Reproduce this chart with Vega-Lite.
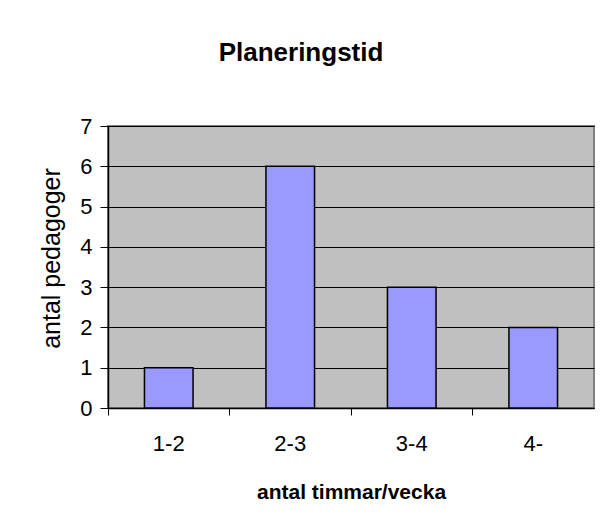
{
  "$schema": "https://vega.github.io/schema/vega-lite/v6.json",
  "autosize": {"type": "none"},
  "padding": {"left": 108, "top": 126, "right": 10, "bottom": 117},
  "width": 486,
  "height": 282,
  "background": "white",
  "title": {
    "text": "Planeringstid",
    "font": "Liberation Sans",
    "fontSize": 26,
    "fontWeight": "bold",
    "color": "black",
    "anchor": "middle",
    "baseline": "alphabetic",
    "offset": 72,
    "dx": -50,
    "dy": 44
  },
  "data": {
    "values": [
      {"timmar": "1-2", "antal": 1},
      {"timmar": "2-3", "antal": 6},
      {"timmar": "3-4", "antal": 3},
      {"timmar": "4-", "antal": 2}
    ]
  },
  "mark": {"type": "bar", "fill": "#9999FF", "stroke": "black", "strokeWidth": 1.5, "width": {"band": 0.4}},
  "encoding": {
    "x": {
      "field": "timmar",
      "type": "nominal",
      "sort": null,
      "scale": {"paddingInner": 0, "paddingOuter": 0},
      "axis": {
        "title": "antal timmar/vecka",
        "titleFont": "Liberation Sans",
        "titleFontSize": 21,
        "titleFontWeight": "bold",
        "titleColor": "black",
        "titlePadding": 27,
        "labelFont": "Liberation Sans",
        "labelFontSize": 22,
        "labelColor": "black",
        "labelAngle": 0,
        "labelPadding": 18,
        "bandPosition": 0,
        "tickSize": 7,
        "tickColor": "black",
        "domainColor": "black",
        "domainWidth": 1.5,
        "grid": false
      }
    },
    "y": {
      "field": "antal",
      "type": "quantitative",
      "scale": {"domain": [0, 7], "nice": false},
      "axis": {
        "title": "antal pedagoger",
        "titleFont": "Liberation Sans",
        "titleFontSize": 25,
        "titleFontWeight": "normal",
        "titleColor": "black",
        "titlePadding": 15,
        "titleY": 132,
        "labelFont": "Liberation Sans",
        "labelFontSize": 22,
        "labelColor": "black",
        "labelPadding": 8,
        "values": [0, 1, 2, 3, 4, 5, 6, 7],
        "tickSize": 8,
        "tickColor": "black",
        "domainColor": "black",
        "domainWidth": 1.5,
        "grid": true,
        "gridColor": "black",
        "gridWidth": 1,
        "gridOpacity": 1
      }
    }
  },
  "config": {
    "view": {"fill": "#C0C0C0", "stroke": "#808080", "strokeWidth": 2}
  }
}
